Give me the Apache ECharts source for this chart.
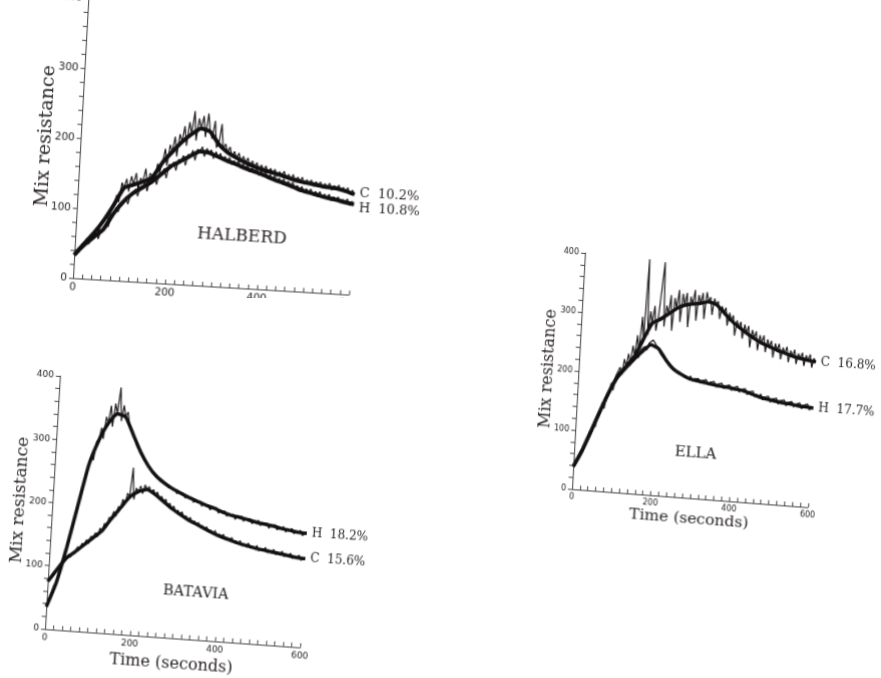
<!DOCTYPE html>
<html><head><meta charset="utf-8">
<script src="https://cdn.jsdelivr.net/npm/echarts@6/dist/echarts.min.js"></script>
<style>
html,body{margin:0;padding:0;background:#fff;width:881px;height:678px;overflow:hidden;position:relative}
.panel{position:absolute}
#clipH{position:absolute;left:0;top:0;width:881px;height:298px;overflow:hidden}
</style></head><body>
<div id="clipH"><div id="halberd" class="panel"></div></div>
<div id="batavia" class="panel"></div>
<div id="ella" class="panel"></div>
<script>
// ---- axis ticks ----
const yTickValues = [0, 100, 200, 300, 400];
const xTickValues = [0, 200, 400, 600];

// ---- sample times (s) ----
const timesRaw = []; for (let t = 0; t <= 600; t += 5) timesRaw.push(t);
const timesSmooth = []; for (let t = 0; t <= 600; t += 20) timesSmooth.push(t);

// ---- HALBERD ----
const halberdC_smooth = [33,50,66,85,108,133,138,143,150,172,188,203,215,224,220,203,192,185,179,174,170,167,164,160,157,155,153,151,150,147,143];
const halberdH_smooth = [33,48,60,72,95,113,126,135,144,156,168,176,184,191,190,185,180,176,171,167,163,158,154,150,145,142,139,136,134,131,129];
const halberdC_raw = [33,41,38,49, 50,58,52,64, 66,74,68,82, 85,92,86,101, 108,122,112,140, 133,146,128,150, 138,155,132,148, 143,162,138,156, 150,148,170,158, 172,192,168,198, 188,210,182,214, 203,226,198,232, 215,248,206,238, 224,242,212,246, 220,210,236,198, 203,232,196,204, 192,200,186,194, 185,192,180,188, 179,186,174,182, 174,180,170,177, 170,176,166,173, 167,172,162,169, 164,170,160,166, 160,166,156,163, 157,163,153,160, 155,160,151,158, 153,158,149,156, 151,157,147,154, 150,155,146,152, 147,152,143,149, 143];
const halberdH_raw = [33,38,44,42, 48,54,50,58, 60,66,58,70, 72,80,76,90, 95,104,98,112, 113,120,110,124, 126,132,122,136, 135,142,130,146, 144,152,140,158, 156,164,150,170, 168,174,162,178, 176,184,170,186, 184,192,178,194, 191,198,184,196, 190,194,182,192, 185,190,180,186, 180,185,175,181, 176,181,171,177, 171,176,166,172, 167,172,162,168, 163,168,158,164, 158,163,154,160, 154,159,150,156, 150,155,146,151, 145,150,141,147, 142,147,138,144, 139,144,135,141, 136,141,132,138, 134,138,130,135, 131,136,127,133, 129];

// ---- BATAVIA ----
const bataviaH_smooth = [35,74,132,198,263,303,331,347,343,316,289,268,253,243,235,229,223,218,213,209,204,200,198,195,192,190,188,185,183,181,180];
const bataviaC_smooth = [75,95,114,125,137,149,161,181,199,217,227,231,224,214,204,196,188,182,176,170,165,161,157,154,151,149,147,145,143,141,140];
const bataviaH_raw = [35,48,58,70, 74,92,100,122, 132,150,160,186, 198,216,229,251, 263,279,271,301, 303,323,306,341, 331,359,326,363, 347,389,336,361, 343,351,331,323, 316,310,298,294, 289,284,276,272, 268,266,258,257, 253,252,245,247, 243,242,236,238, 235,234,228,231, 229,229,222,225, 223,224,216,220, 218,219,211,215, 213,214,206,210, 209,210,202,206, 204,206,198,202, 200,202,194,199, 198,200,192,196, 195,197,189,193, 192,195,187,191, 190,192,184,188, 188,190,182,187, 185,188,180,184, 183,186,178,182, 181,184,176,180, 180];
const bataviaC_raw = [75,82,88,92, 95,102,106,112, 114,120,116,124, 125,133,129,139, 137,145,139,151, 149,157,151,165, 161,173,167,183, 181,193,185,201, 199,213,205,223, 217,264,214,232, 227,236,224,238, 231,236,226,232, 224,228,218,222, 214,218,208,212, 204,208,199,202, 196,200,191,194, 188,192,184,187, 182,185,177,180, 176,179,171,174, 170,174,166,169, 165,169,161,164, 161,165,157,160, 157,161,153,156, 154,158,150,153, 151,155,147,150, 149,153,145,148, 147,151,143,146, 145,149,141,144, 143,147,139,142, 141,145,137,140, 140];

// ---- ELLA ----
const ellaC_smooth = [38,66,100,135,168,197,214,232,262,290,298,308,318,325,328,330,334,330,318,305,295,286,278,271,266,261,257,253,250,248,246];
const ellaH_smooth = [38,66,100,135,168,195,212,228,242,254,248,230,216,208,202,199,197,195,193,192,190,188,184,180,177,175,173,172,170,169,168];
const ellaC_raw = [38,46,50,60, 66,76,80,94, 100,112,108,128, 135,150,140,162, 168,184,172,196, 197,212,200,226, 214,236,218,250, 232,268,240,300, 262,398,270,310, 290,320,278,300, 298,395,286,322, 308,340,280,336, 318,350,296,344, 325,346,288,340, 328,352,300,344, 330,348,304,350, 334,342,312,340, 330,336,306,328, 318,326,296,318, 305,314,280,306, 295,304,276,300, 286,298,262,292, 278,290,258,284, 271,284,256,278, 266,276,248,272, 261,272,246,266, 257,268,242,262, 253,264,240,258, 250,260,238,256, 248,258,236,252, 246];
const ellaH_raw = [38,44,52,58, 66,74,84,92, 100,110,116,128, 135,144,152,160, 168,178,184,190, 195,204,200,210, 212,222,216,226, 228,238,230,244, 242,250,244,256, 254,262,258,252, 248,240,236,232, 230,226,220,220, 216,218,210,212, 208,210,203,206, 202,206,198,202, 199,203,195,200, 197,202,193,198, 195,200,191,196, 193,198,189,194, 192,196,187,192, 190,195,185,190, 188,192,182,187, 184,189,179,184, 180,185,175,180, 177,182,172,178, 175,180,170,176, 173,178,168,174, 172,176,167,172, 170,175,165,171, 169,174,164,170, 168];

function pairs(ts, vs) { const n = Math.min(ts.length, vs.length); const out = []; for (let i = 0; i < n; i++) out.push([ts[i], vs[i]]); return out; }

const INK = '#121010';
const TXT = '#2a2424';

function makePanel(c) {
  const el = document.getElementById(c.id);
  const W = 600 * c.sx, H = 400 * c.sy;
  el.style.left = (c.ox - c.L) + 'px';
  el.style.top = (c.oy - c.T - H) + 'px';
  el.style.width = c.w + 'px';
  el.style.height = c.h + 'px';
  el.style.transformOrigin = c.L + 'px ' + (c.T + H) + 'px';
  el.style.transform = 'matrix(1,' + c.kx + ',' + (-c.ky) + ',1,0,0)';
  const chart = echarts.init(el, null, { renderer: 'canvas' });
  const series = [];
  c.curves.forEach(cv => {
    series.push({ type: 'line', data: pairs(timesRaw, cv.raw), showSymbol: false, symbol: 'none',
      lineStyle: { color: '#1e1a1a', width: 1.2 }, z: 2, silent: true });
    series.push({ type: 'line', data: pairs(timesSmooth, cv.smooth), showSymbol: false, symbol: 'none', smooth: 0.15,
      lineStyle: { color: INK, width: c.lw }, z: 3, silent: true,
      endLabel: { show: true, formatter: cv.label, distance: 5, offset: cv.off || [0, 0], color: TXT,
        fontFamily: 'DejaVu Serif', fontSize: c.endFs } });
  });
  chart.setOption({
    animation: false,
    backgroundColor: 'transparent',
    grid: { left: c.L, top: c.T, width: W, height: H, containLabel: false },
    xAxis: {
      type: 'value', min: 0, max: 600, interval: 200,
      name: c.xName, nameLocation: 'middle', nameGap: c.xNameGap, nameMoveOverlap: false,
      nameTextStyle: { fontFamily: 'DejaVu Serif', fontSize: c.xNameFs, color: TXT },
      axisLine: { lineStyle: { color: '#444', width: 1 } },
      axisTick: { show: true, inside: true, length: 4, lineStyle: { color: '#444' } },
      minorTick: { show: true, splitNumber: 10, length: 4, lineStyle: { color: '#444' } },
      splitLine: { show: false }, minorSplitLine: { show: false },
      axisLabel: { fontFamily: 'DejaVu Sans', fontSize: c.tickFs, color: '#222', margin: 4,
        formatter: v => xTickValues.includes(v) ? String(v) : '' }
    },
    yAxis: {
      type: 'value', min: 0, max: 400, interval: 100,
      name: 'Mix resistance', nameLocation: 'middle', nameGap: c.yNameGap, nameMoveOverlap: false,
      nameTextStyle: { fontFamily: 'DejaVu Serif', fontSize: c.yNameFs, color: TXT },
      axisLine: { show: true, lineStyle: { color: '#444', width: 1 } },
      axisTick: { show: true, inside: false, length: 4, lineStyle: { color: '#444' } },
      minorTick: { show: true, splitNumber: 5, length: 4, lineStyle: { color: '#444' } },
      splitLine: { show: false }, minorSplitLine: { show: false },
      axisLabel: { fontFamily: 'DejaVu Sans', fontSize: c.tickFs, color: '#222', margin: 6,
        formatter: v => yTickValues.includes(v) ? String(v) : '' }
    },
    graphic: [{ type: 'text', x: c.titleX, y: c.titleY, z: 10,
      style: { text: c.title, align: 'center', verticalAlign: 'middle', fill: TXT,
        font: c.titleFs + 'px "DejaVu Serif"' } }],
    series: series
  });
}

makePanel({ id: 'halberd', ox: 73, oy: 278, sx: 0.46, sy: 0.70, kx: 0.06, ky: 0.055,
  L: 60, T: 20, w: 470, h: 360, lw: 4, tickFs: 10.5, endFs: 13,
  xName: '', xNameGap: 16, xNameFs: 17, yNameGap: 25, yNameFs: 19,
  title: 'HALBERD', titleX: 226, titleY: 249, titleFs: 17,
  curves: [
    { raw: halberdC_raw, smooth: halberdC_smooth, label: 'C  10.2%', off: [0, -1] },
    { raw: halberdH_raw, smooth: halberdH_smooth, label: 'H  10.8%', off: [0, 4] }
  ] });

makePanel({ id: 'batavia', ox: 45, oy: 629, sx: 0.425, sy: 0.632, kx: 0.072, ky: 0.059,
  L: 60, T: 20, w: 440, h: 340, lw: 3.5, tickFs: 9, endFs: 12,
  xName: 'Time (seconds)', xNameGap: 18, xNameFs: 16, yNameGap: 24, yNameFs: 17,
  title: 'BATAVIA', titleX: 208, titleY: 226, titleFs: 14.5,
  curves: [
    { raw: bataviaH_raw, smooth: bataviaH_smooth, label: 'H  18.2%' },
    { raw: bataviaC_raw, smooth: bataviaC_smooth, label: 'C  15.6%' }
  ] });

makePanel({ id: 'ella', ox: 572, oy: 489, sx: 0.393, sy: 0.59, kx: 0.077, ky: 0.055,
  L: 50, T: 20, w: 380, h: 320, lw: 3.5, tickFs: 8, endFs: 12,
  xName: 'Time (seconds)', xNameGap: 13, xNameFs: 15.5, yNameGap: 22, yNameFs: 16,
  title: 'ELLA', titleX: 171, titleY: 211, titleFs: 15,
  curves: [
    { raw: ellaC_raw, smooth: ellaC_smooth, label: 'C  16.8%' },
    { raw: ellaH_raw, smooth: ellaH_smooth, label: 'H  17.7%' }
  ] });
</script>
</body></html>
